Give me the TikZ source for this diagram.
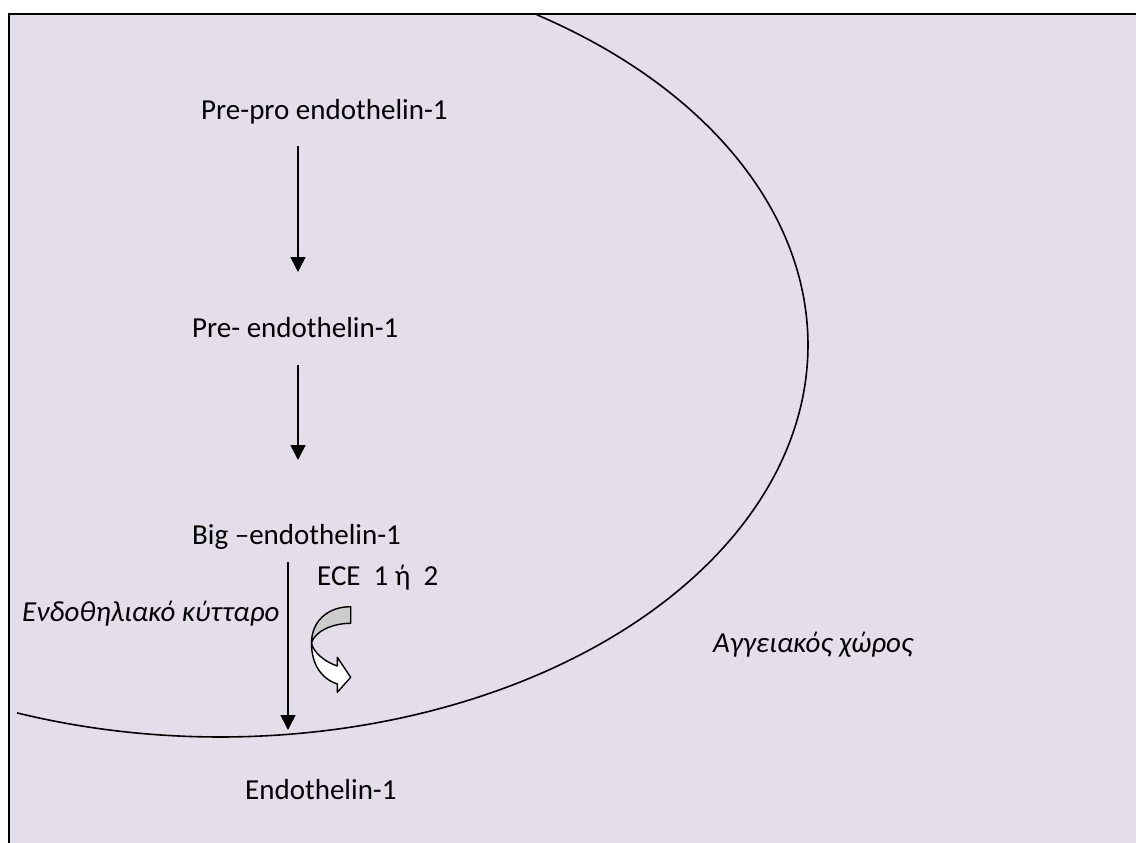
\documentclass[tikz,border=0pt]{standalone}
\usepackage{fontspec}
\setmainfont{Carlito}
\usetikzlibrary{arrows.meta}
\definecolor{bgfill}{RGB}{227,222,234}
\definecolor{foldgray}{RGB}{204,204,204}
\begin{document}
\begin{tikzpicture}[x=1pt,y=-1pt,
  lbl/.style={anchor=base west, inner sep=0pt, font=\fontsize{29}{34}\selectfont},
  ilbl/.style={anchor=base west, inner sep=0pt, font=\fontsize{29}{34}\selectfont\itshape},
  flow/.style={line width=1.6pt, -{Triangle[length=15pt,width=15pt]}},
  membrane/.style={line width=1.6pt},
  hollow/.style={draw=black, line width=1.4pt, line join=round}]
\useasboundingbox (0,0) rectangle (1136,843);
\fill[bgfill] (9,14) rectangle (1136,843);
\draw[line width=2pt] (9,843) -- (9,14) -- (1136,14);

% membrane curve (elliptical arc)
\draw[membrane] plot[domain=-57.4:110.2, samples=240, smooth]
  ({220+588*cos(\x)}, {345+392*sin(\x)});

% labels
\node[lbl] (ppe) at (201,119.3) {Pre-pro endothelin-1};
\node[lbl] (pe) at (192,337) {Pre- endothelin-1};
\node[lbl] (big) at (192,544) {Big –endothelin-1};
\node[lbl] (ece) at (317,585) {ECE\ \ 1 ή\ \ 2};
\node[ilbl] (cell) at (22,621) {Ενδοθηλιακό κύτταρο};
\node[ilbl] (vasc) at (713,652) {Αγγειακός χώρος};
\node[lbl] (et) at (245,799) {Endothelin-1};

% arrows
\coordinate (a1s) at (298,146); \coordinate (a1e) at (298,272);
\coordinate (a2s) at (298,365); \coordinate (a2e) at (298,460);
\coordinate (a3s) at (288,562); \coordinate (a3e) at (288,730);
\draw[flow] (a1s) -- (a1e);
\draw[flow] (a2s) -- (a2e);
\draw[flow] (a3s) -- (a3e);

% curved hollow arrow (ECE)
\filldraw[hollow, fill=foldgray] (350.7,606.7) .. controls (327,606.7) and (311.5,622) .. (311.5,643)
   .. controls (314,633) and (330,623.3) .. (350.7,623.3) -- cycle;
\filldraw[hollow, fill=white] (311.5,643) .. controls (311.5,665) and (322,679) .. (337.3,684)
   -- (337.3,692.3) -- (350.7,677.3) -- (337.3,657.3) -- (337.3,666)
   .. controls (325,662) and (313,652) .. (311.5,643) -- cycle;
\end{tikzpicture}
\end{document}
